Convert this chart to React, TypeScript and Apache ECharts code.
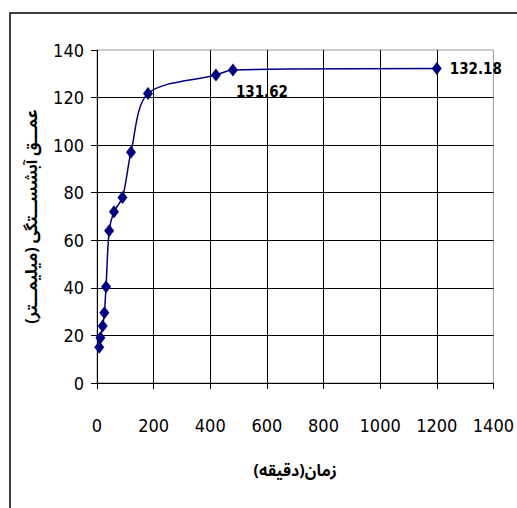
import React, { useEffect, useRef } from "react";
import * as echarts from "echarts";

const times = [8, 12, 20, 26, 32, 43, 60, 90, 120, 180, 420, 480, 1200];
const depths = [15, 19, 24, 29.5, 40.5, 64, 72, 78, 97, 121.7, 129.5, 131.62, 132.18];
const xTitle = "زمان(دقیقه)";
const yTitle = "عمـــق آبشســـتگی (میلیمـــتر)";

const NUM_FONT = "'DejaVu Sans Condensed', 'Liberation Sans Narrow', sans-serif";
const FA_FONT = "'Noto Sans Arabic', 'Noto Naskh Arabic', 'DejaVu Sans', sans-serif";

export default function App() {
  const ref = useRef<HTMLDivElement>(null);
  useEffect(() => {
    if (!ref.current) return;
    const chart = echarts.init(ref.current, null, { renderer: "svg" });
    const data = times.map((t, i) => {
      const item: any = { value: [t, depths[i]] };
      if (i === 11) {
        item.label = {
          show: true,
          position: "right",
          offset: [-7, 22],
          formatter: depths[i].toFixed(2),
        };
      } else if (i === 12) {
        item.label = {
          show: true,
          position: "right",
          offset: [3, 0],
          formatter: depths[i].toFixed(2),
        };
      }
      return item;
    });
    chart.setOption({
      animation: false,
      backgroundColor: "#fff",
      graphic: [
        {
          type: "rect",
          shape: { x: 10, y: 13, width: 700, height: 700 },
          style: { fill: "none", stroke: "#000", lineWidth: 1.5 },
          silent: true,
        },
      ],
      grid: {
        left: 97,
        top: 50,
        width: 401,
        height: 333,
        show: true,
        borderColor: "#999",
        borderWidth: 1,
        backgroundColor: "transparent",
      },
      xAxis: {
        type: "value",
        min: 0,
        max: 1400,
        interval: 200,
        name: xTitle,
        nameLocation: "middle",
        nameGap: 80,
        nameTextStyle: { fontFamily: FA_FONT, fontWeight: "bold", fontSize: 16, color: "#000" },
        axisLine: { show: true, lineStyle: { color: "#000", width: 1 } },
        axisTick: { show: true, inside: false, length: 6, lineStyle: { color: "#000" } },
        axisLabel: {
          color: "#000",
          fontFamily: NUM_FONT,
          fontSize: 18,
          margin: 33,
          formatter: (v: number) => String(v),
        },
        splitLine: { show: true, showMinLine: false, showMaxLine: false, lineStyle: { color: "#000", width: 1 } },
      },
      yAxis: {
        type: "value",
        min: 0,
        max: 140,
        interval: 20,
        name: yTitle,
        nameLocation: "middle",
        nameGap: 57,
        nameRotate: 90,
        nameTextStyle: { fontFamily: FA_FONT, fontWeight: "bold", fontSize: 16, color: "#000" },
        axisLine: { show: true, lineStyle: { color: "#000", width: 1 } },
        axisTick: { show: true, inside: false, length: 6, lineStyle: { color: "#000" } },
        axisLabel: {
          color: "#000",
          fontFamily: NUM_FONT,
          fontSize: 18,
          margin: 13,
          formatter: (v: number) => String(v),
        },
        splitLine: { show: true, showMinLine: false, showMaxLine: false, lineStyle: { color: "#000", width: 1 } },
      },
      series: [
        {
          type: "line",
          data,
          smooth: 0.3,
          symbol: "diamond",
          symbolSize: [10, 13],
          lineStyle: { color: "#000080", width: 1.5 },
          itemStyle: { color: "#000080" },
          label: {
            show: false,
            color: "#000",
            fontFamily: NUM_FONT,
            fontWeight: "bold",
            fontSize: 15,
          },
        },
      ],
    });
    return () => chart.dispose();
  }, []);
  return (
    <div
      ref={ref}
      style={{ position: "fixed", left: 0, top: 0, width: 517, height: 508 }}
    />
  );
}
